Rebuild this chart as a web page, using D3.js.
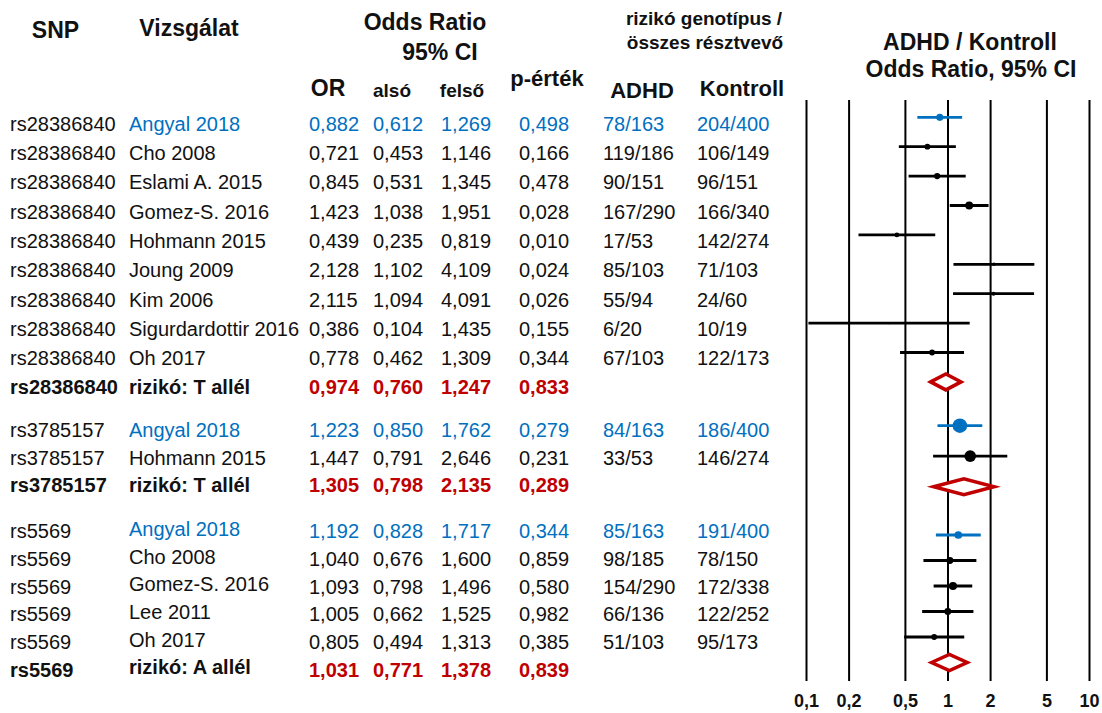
<!DOCTYPE html>
<html>
<head>
<meta charset="utf-8">
<script src="https://cdn.jsdelivr.net/npm/d3@7"></script>
<style>
  body { margin: 0; background: #fff; }
  svg { display: block; }
  text { font-family: "Liberation Sans", Arial, sans-serif; }
</style>
</head>
<body>
<svg id="chart" width="1102" height="713"></svg>
<script>
// ---- Data -------------------------------------------------------------
const snpGroups = ["rs28386840", "rs3785157", "rs5569"];

const rowSnp = [
  "rs28386840", "rs28386840", "rs28386840", "rs28386840", "rs28386840",
  "rs28386840", "rs28386840", "rs28386840", "rs28386840", "rs28386840",
  "rs3785157", "rs3785157", "rs3785157",
  "rs5569", "rs5569", "rs5569", "rs5569", "rs5569", "rs5569"
];

const rowKind = [
  "study", "study", "study", "study", "study", "study", "study", "study", "study", "pooled",
  "study", "study", "pooled",
  "study", "study", "study", "study", "study", "pooled"
];

const studies = [
  "Angyal 2018", "Cho 2008", "Eslami A. 2015", "Gomez-S. 2016", "Hohmann 2015",
  "Joung 2009", "Kim 2006", "Sigurdardottir 2016", "Oh 2017", "rizikó: T allél",
  "Angyal 2018", "Hohmann 2015", "rizikó: T allél",
  "Angyal 2018", "Cho 2008", "Gomez-S. 2016", "Lee 2011", "Oh 2017", "rizikó: A allél"
];

const oddsRatio = [
  0.882, 0.721, 0.845, 1.423, 0.439, 2.128, 2.115, 0.386, 0.778, 0.974,
  1.223, 1.447, 1.305,
  1.192, 1.040, 1.093, 1.005, 0.805, 1.031
];

const ciLower = [
  0.612, 0.453, 0.531, 1.038, 0.235, 1.102, 1.094, 0.104, 0.462, 0.760,
  0.850, 0.791, 0.798,
  0.828, 0.676, 0.798, 0.662, 0.494, 0.771
];

const ciUpper = [
  1.269, 1.146, 1.345, 1.951, 0.819, 4.109, 4.091, 1.435, 1.309, 1.247,
  1.762, 2.646, 2.135,
  1.717, 1.600, 1.496, 1.525, 1.313, 1.378
];

const pValues = [
  0.498, 0.166, 0.478, 0.028, 0.010, 0.024, 0.026, 0.155, 0.344, 0.833,
  0.279, 0.231, 0.289,
  0.344, 0.859, 0.580, 0.982, 0.385, 0.839
];

const adhdCounts = [
  "78/163", "119/186", "90/151", "167/290", "17/53", "85/103", "55/94", "6/20", "67/103", "",
  "84/163", "33/53", "",
  "85/163", "98/185", "154/290", "66/136", "51/103", ""
];

const controlCounts = [
  "204/400", "106/149", "96/151", "166/340", "142/274", "71/103", "24/60", "10/19", "122/173", "",
  "186/400", "146/274", "",
  "191/400", "78/150", "172/338", "122/252", "95/173", ""
];

// relative study weights within each meta-analysis (%), none for pooled rows
const studyWeights = [
  14, 9, 10.5, 17, 6, 3.3, 4.2, 1.5, 9, null,
  58, 37, null,
  16, 13, 18, 13, 9, null
];

const axisTicks = [0.1, 0.2, 0.5, 1, 2, 5, 10];
const ownStudy = "Angyal 2018";

// ---- Styling & layout -------------------------------------------------
const BLUE = "#0070C0";
const RED = "#C00000";
const INK = "#111";

// Table text baselines per SNP block
const tableLayout = [
  { top: 130.7, step: 29.3, studyShift: 0 },
  { top: 437.3, step: 27.2, studyShift: 0 },
  { top: 538.3, step: 27.7, studyShift: -2.5 }
];
// Forest plot row centres per SNP block
const plotLayout = [
  { top: 117.3, step: 29.4 },
  { top: 425.7, step: 30.5 },
  { top: 535, step: 25.5 }
];

const huLocale = d3.formatLocale({ decimal: ",", thousands: " ", grouping: [3], currency: ["", " Ft"] });
const fmt3 = huLocale.format(".3f");
const fmtTick = huLocale.format("~g");

const svg = d3.select("#chart");

// Assemble rows with their position inside the SNP block
const blockCounter = {};
const rows = studies.map((s, i) => {
  const g = snpGroups.indexOf(rowSnp[i]);
  blockCounter[g] = (blockCounter[g] ?? -1) + 1;
  return {
    snp: rowSnp[i], study: s, kind: rowKind[i], block: g, idx: blockCounter[g],
    or: oddsRatio[i], lo: ciLower[i], hi: ciUpper[i], p: pValues[i],
    adhd: adhdCounts[i], ctrl: controlCounts[i], w: studyWeights[i]
  };
});

const tableY = tableLayout.map(l => d3.scaleLinear().domain([0, 1]).range([l.top, l.top + l.step]));
const plotY = plotLayout.map(l => d3.scaleLinear().domain([0, 1]).range([l.top, l.top + l.step]));

// ---- Header -----------------------------------------------------------
const headers = [
  { t: "SNP", x: 55.5, y: 38, s: 23 },
  { t: "Vizsgálat", x: 189, y: 36, s: 23 },
  { t: "Odds Ratio", x: 425, y: 30, s: 23 },
  { t: "95% CI", x: 440, y: 60, s: 23 },
  { t: "OR", x: 328, y: 96, s: 23 },
  { t: "alsó", x: 392, y: 97, s: 19 },
  { t: "felső", x: 462, y: 97, s: 19 },
  { t: "p-érték", x: 547, y: 86, s: 22 },
  { t: "rizikó genotípus /", x: 704, y: 25, s: 19 },
  { t: "összes résztvevő", x: 705, y: 49, s: 19 },
  { t: "ADHD", x: 642, y: 98, s: 22 },
  { t: "Kontroll", x: 742, y: 96, s: 22 },
  { t: "ADHD / Kontroll", x: 970, y: 50, s: 23 },
  { t: "Odds Ratio, 95% CI", x: 971, y: 77, s: 23 }
];
svg.append("g").attr("class", "headers")
  .selectAll("text").data(headers).join("text")
  .attr("x", d => d.x).attr("y", d => d.y)
  .attr("text-anchor", "middle")
  .attr("font-weight", "bold")
  .attr("font-size", d => d.s)
  .attr("fill", INK)
  .text(d => d.t);

// ---- Forest plot ------------------------------------------------------
const x = d3.scaleLog().domain([0.1, 10]).range([806, 1089]);
const r = d3.scaleSqrt().domain([0, 100]).range([0, 9.6]);
const axisY = 681, gridTop = 100;

const axis = svg.append("g")
  .attr("transform", `translate(0,${axisY})`)
  .call(d3.axisBottom(x)
    .tickValues(axisTicks)
    .tickFormat(fmtTick)
    .tickSize(-(axisY - gridTop))
    .tickPadding(13));
axis.select(".domain").remove();
axis.selectAll(".tick line").attr("stroke", "#000").attr("stroke-width", 2);
axis.selectAll(".tick text")
  .attr("fill", INK)
  .attr("font-family", "\"Liberation Sans\", Arial, sans-serif")
  .attr("font-size", 18)
  .attr("font-weight", "bold");

const py = d => plotY[d.block](d.idx);
const studyRows = rows.filter(d => d.kind === "study");
const pooledRows = rows.filter(d => d.kind === "pooled");

const marks = svg.append("g").attr("class", "marks");
marks.selectAll("line.ci").data(studyRows).join("line")
  .attr("class", "ci")
  .attr("x1", d => x(d.lo)).attr("x2", d => x(d.hi))
  .attr("y1", py).attr("y2", py)
  .attr("stroke", d => d.study === ownStudy ? BLUE : "#000")
  .attr("stroke-width", 2.8);
marks.selectAll("circle.pt").data(studyRows).join("circle")
  .attr("class", "pt")
  .attr("cx", d => x(d.or)).attr("cy", py)
  .attr("r", d => r(d.w))
  .attr("fill", d => d.study === ownStudy ? BLUE : "#000");

const dh = 8;
marks.selectAll("path.diamond").data(pooledRows).join("path")
  .attr("class", "diamond")
  .attr("d", d => {
    const y = py(d);
    return `M${x(d.lo)},${y}L${x(d.or)},${y - dh}L${x(d.hi)},${y}L${x(d.or)},${y + dh}Z`;
  })
  .attr("fill", "#fff")
  .attr("stroke", RED)
  .attr("stroke-width", 3.5)
  .attr("stroke-linejoin", "miter");

// ---- Table ------------------------------------------------------------
const ty = d => tableY[d.block](d.idx);
const table = svg.append("g").attr("class", "table").attr("font-size", 20);

const rowG = table.selectAll("g.row").data(rows).join("g").attr("class", "row");

const valueColor = d => d.kind === "pooled" ? RED : (d.study === ownStudy ? BLUE : INK);
const weight = d => d.kind === "pooled" ? "bold" : "normal";

rowG.append("text")
  .attr("x", 10).attr("y", ty)
  .attr("fill", INK).attr("font-weight", weight)
  .text(d => d.snp);

rowG.append("text")
  .attr("x", 129).attr("y", d => ty(d) + tableLayout[d.block].studyShift)
  .attr("fill", d => d.study === ownStudy ? BLUE : INK)
  .attr("font-weight", weight)
  .text(d => d.study);

const numCols = [
  { key: "or", x: 309 },
  { key: "lo", x: 373 },
  { key: "hi", x: 441 },
  { key: "p", x: 519 }
];
numCols.forEach(c => {
  rowG.append("text")
    .attr("x", c.x).attr("y", ty)
    .attr("fill", valueColor).attr("font-weight", weight)
    .text(d => fmt3(d[c.key]));
});

rowG.filter(d => d.adhd).append("text")
  .attr("x", 603).attr("y", ty)
  .attr("fill", d => d.study === ownStudy ? BLUE : INK)
  .text(d => d.adhd);
rowG.filter(d => d.ctrl).append("text")
  .attr("x", 697).attr("y", ty)
  .attr("fill", d => d.study === ownStudy ? BLUE : INK)
  .text(d => d.ctrl);
</script>
</body>
</html>
